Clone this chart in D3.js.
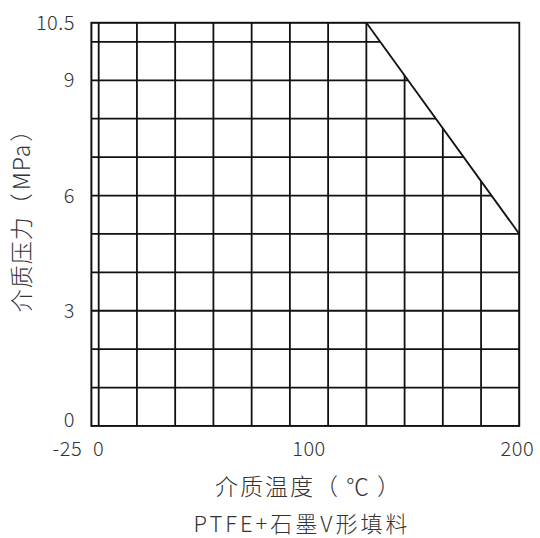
<!DOCTYPE html>
<html><head><meta charset="utf-8">
<script src="https://cdn.jsdelivr.net/npm/d3@7"></script>
<style>
html,body{margin:0;padding:0;background:#fff;}
text{font-family:"Noto Sans CJK SC","Noto Sans",sans-serif;fill:#333;font-weight:300;}
</style></head>
<body>
<svg id="c" width="540" height="538"></svg>
<script>
const xTickValues = [-25, 0, 100, 200];
const xTickLabels = ["-25", "0", "100", "200"];
const yTickValues = [0, 3, 6, 9, 10.5];
const yTickLabels = ["0", "3", "6", "9", "10.5"];
const yGridValues = [0,1,2,3,4,5,6,7,8,9,10,10.5];
const xGridCount = 11;
const limitTemp = [-25, 127.3, 200];
const limitPressure = [10.5, 10.5, 5];
const xTitleParts = ["介质温度（", "℃", "）"];
const yTitleParts = ["介质压力（", "MPa", "）"];
const caption = "PTFE+石墨V形填料";

const svg = d3.select("#c");
const x = d3.scaleLinear().domain([-25, 0, 200]).range([91.3, 98.7, 519.3]);
const y = d3.scaleLinear().domain([0, 10.5]).range([426, 22.7]);

const xGrid = [-25].concat(d3.range(xGridCount + 1).map(k => k * 200 / xGridCount));

const limitPts = limitTemp.map((t, i) => [t, limitPressure[i]]);
const clipPoly = [[-25, 0]].concat(limitPts).concat([[200, 0]]);
svg.append("clipPath").attr("id", "clip").append("polygon")
  .attr("points", clipPoly.map(p => [x(p[0]), y(p[1])].join(",")).join(" "));

const g = svg.append("g").attr("clip-path", "url(#clip)");
g.selectAll("line.v").data(xGrid).join("line").attr("class", "v")
  .attr("x1", d => x(d)).attr("x2", d => x(d))
  .attr("y1", y(10.5)).attr("y2", y(0))
  .attr("stroke", "#111").attr("stroke-width", 1.8);
g.selectAll("line.h").data(yGridValues).join("line").attr("class", "h")
  .attr("y1", d => y(d)).attr("y2", d => y(d))
  .attr("x1", x(-25)).attr("x2", x(200))
  .attr("stroke", "#111").attr("stroke-width", 1.8);

svg.append("rect").attr("x", x(-25)).attr("y", y(10.5))
  .attr("width", x(200) - x(-25)).attr("height", y(0) - y(10.5))
  .attr("fill", "none").attr("stroke", "#111").attr("stroke-width", 1.8);

svg.append("path").datum(limitPts.slice(1))
  .attr("d", d3.line().x(d => x(d[0])).y(d => y(d[1])))
  .attr("fill", "none").attr("stroke", "#111").attr("stroke-width", 1.8);

svg.selectAll("text.yt").data(yTickValues).join("text").attr("class", "yt")
  .attr("x", 75).attr("y", d => y(d) + (d === 0 ? -6 : 0))
  .attr("dy", "0.35em").attr("text-anchor", "end")
  .attr("font-size", 20).attr("letter-spacing", 0.5).text((d, i) => yTickLabels[i]);

const xLabelOffset = {"-25": -24};
svg.selectAll("text.xt").data(xTickValues).join("text").attr("class", "xt")
  .attr("x", d => x(d) + (xLabelOffset[d] || 0) + (d === 200 ? -2 : 0))
  .attr("y", 456).attr("text-anchor", "middle")
  .attr("font-size", 20).attr("letter-spacing", 0.5).text((d, i) => xTickLabels[i]);

const xt = svg.append("text").attr("x", 215).attr("y", 495).attr("text-anchor", "start")
  .attr("font-size", 23).attr("letter-spacing", 2);
xt.selectAll("tspan").data(xTitleParts).join("tspan")
  .attr("dx", (d, i) => [0, 6, 6][i]).text(d => d);

svg.append("text").attr("x", 302).attr("y", 532).attr("text-anchor", "middle")
  .attr("font-size", 22).attr("letter-spacing", 3).text(caption);

const yt = svg.append("text").attr("transform", "translate(30,215) rotate(-90)")
  .attr("text-anchor", "middle").attr("font-size", 23).attr("letter-spacing", 1);
yt.selectAll("tspan").data(yTitleParts).join("tspan")
  .attr("dx", (d, i) => [0, 2, 2][i]).text(d => d);
</script>
</body></html>
